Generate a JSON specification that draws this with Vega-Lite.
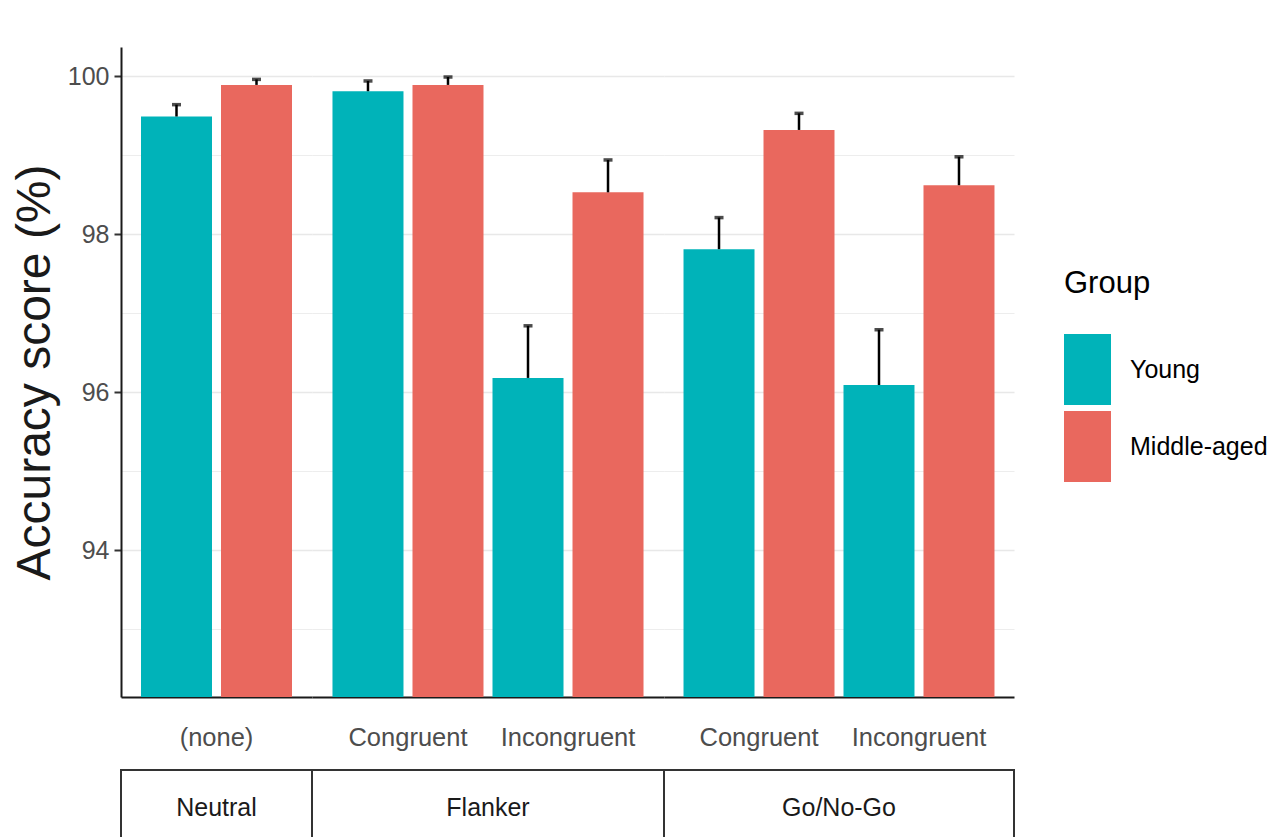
{
  "$schema": "https://vega.github.io/schema/vega-lite/v6.json",
  "background": "white",
  "padding": {"left": 11, "top": 47, "right": 0, "bottom": 0},
  "autosize": {"type": "pad"},
  "datasets": {
    "bars": [
      {"task": "Neutral", "cond": "(none)", "group": "Young", "acc": 99.49, "upper": 99.64},
      {"task": "Neutral", "cond": "(none)", "group": "Middle-aged", "acc": 99.89, "upper": 99.96},
      {"task": "Flanker", "cond": "Congruent", "group": "Young", "acc": 99.81, "upper": 99.94},
      {"task": "Flanker", "cond": "Congruent", "group": "Middle-aged", "acc": 99.89, "upper": 99.99},
      {"task": "Flanker", "cond": "Incongruent", "group": "Young", "acc": 96.18, "upper": 96.84},
      {"task": "Flanker", "cond": "Incongruent", "group": "Middle-aged", "acc": 98.53, "upper": 98.94},
      {"task": "Go/No-Go", "cond": "Congruent", "group": "Young", "acc": 97.81, "upper": 98.21},
      {"task": "Go/No-Go", "cond": "Congruent", "group": "Middle-aged", "acc": 99.32, "upper": 99.53},
      {"task": "Go/No-Go", "cond": "Incongruent", "group": "Young", "acc": 96.09, "upper": 96.79},
      {"task": "Go/No-Go", "cond": "Incongruent", "group": "Middle-aged", "acc": 98.62, "upper": 98.98}
    ],
    "tasks": [
      {"task": "Neutral"},
      {"task": "Flanker"},
      {"task": "Go/No-Go"}
    ]
  },
  "config": {
    "font": "Liberation Sans",
    "view": {"stroke": null},
    "axisX": {
      "title": null,
      "labelFont": "Liberation Sans",
      "labelFontSize": 25.5,
      "labelColor": "#4d4d4d",
      "labelAngle": 0,
      "labelPadding": 28,
      "ticks": false,
      "domainColor": "#1a1a1a",
      "domainWidth": 2,
      "grid": false
    },
    "axisY": {
      "labelFont": "Liberation Sans",
      "labelFontSize": 25,
      "labelColor": "#4d4d4d",
      "tickColor": "#333333",
      "tickWidth": 2,
      "tickSize": 7,
      "labelPadding": 5,
      "domainColor": "#1a1a1a",
      "domainWidth": 2,
      "gridColor": "#e8e8e8"
    },
    "legend": {
      "orient": "none",
      "legendX": 943,
      "legendY": 222,
      "titleFont": "Liberation Sans",
      "titleFontSize": 31,
      "titleFontWeight": "normal",
      "titleColor": "black",
      "titlePadding": 46,
      "labelFont": "Liberation Sans",
      "labelFontSize": 25,
      "labelColor": "black",
      "labelOffset": 19,
      "symbolType": "M-1,-1.511H1V1.511H-1Z",
      "symbolSize": 2209,
      "symbolStrokeWidth": 0,
      "symbolOpacity": 1,
      "rowPadding": 4
    }
  },
  "columns": 3,
  "align": "each",
  "bounds": "flush",
  "spacing": {"row": 73, "column": 0},
  "resolve": {"scale": {"x": "independent", "y": "independent", "xOffset": "independent", "color": "shared"}},
  "concat": [
    {
      "width": 191,
      "height": 650,
      "data": {"name": "bars"},
      "transform": [{"filter": "datum.task === 'Neutral'"}],
      "encoding": {
        "x": {"field": "cond", "type": "nominal", "scale": {"paddingInner": 0.05625, "paddingOuter": 0.125}},
        "xOffset": {"field": "group", "type": "nominal", "sort": ["Young", "Middle-aged"], "scale": {"paddingInner": 0.1125, "paddingOuter": 0}}
      },
      "layer": [
        {
          "mark": {"type": "bar", "clip": true},
          "encoding": {
            "y": {
              "field": "acc", "type": "quantitative", "stack": null,
              "scale": {"domain": [92.14, 100.37], "zero": false, "nice": false},
              "axis": {
                "title": "Accuracy score (%)",
                "titleFont": "Liberation Sans",
                "titleFontSize": 48,
                "titleFontWeight": "normal",
                "titleColor": "#1a1a1a",
                "titlePadding": 8,
                "format": "d",
                "values": [93, 94, 95, 96, 97, 98, 99, 100],
                "labelExpr": "datum.value % 2 === 0 ? datum.label : ''",
                "tickOpacity": {"condition": {"test": "datum.value % 2 === 1", "value": 0}, "value": 1},
                "gridWidth": {"condition": {"test": "datum.value % 2 === 1", "value": 0.8}, "value": 1.6}
              }
            },
            "color": {"field": "group", "type": "nominal", "sort": ["Young", "Middle-aged"], "scale": {"domain": ["Young", "Middle-aged"], "range": ["#00B3B9", "#E9685E"]}, "legend": {"title": "Group"}}
          }
        },
        {
          "mark": {"type": "rule", "color": "black", "strokeWidth": 2.5},
          "encoding": {"y": {"field": "acc", "type": "quantitative"}, "y2": {"field": "upper"}}
        },
        {
          "mark": {"type": "tick", "color": "black", "thickness": 3.5, "size": 9, "orient": "horizontal"},
          "encoding": {"y": {"field": "upper", "type": "quantitative"}}
        }
      ]
    },
    {
      "width": 352,
      "height": 650,
      "data": {"name": "bars"},
      "transform": [{"filter": "datum.task === 'Flanker'"}],
      "encoding": {
        "x": {"field": "cond", "type": "nominal", "scale": {"paddingInner": 0.05625, "paddingOuter": 0.128}},
        "xOffset": {"field": "group", "type": "nominal", "sort": ["Young", "Middle-aged"], "scale": {"paddingInner": 0.1125, "paddingOuter": 0}}
      },
      "layer": [
        {
          "mark": {"type": "bar", "clip": true},
          "encoding": {
            "y": {
              "field": "acc", "type": "quantitative", "stack": null,
              "scale": {"domain": [92.14, 100.37], "zero": false, "nice": false},
              "axis": {
                "title": null, "labels": false, "ticks": false, "domain": false,
                "values": [93, 94, 95, 96, 97, 98, 99, 100],
                "gridWidth": {"condition": {"test": "datum.value % 2 === 1", "value": 0.8}, "value": 1.6}
              }
            },
            "color": {"field": "group", "type": "nominal", "sort": ["Young", "Middle-aged"], "scale": {"domain": ["Young", "Middle-aged"], "range": ["#00B3B9", "#E9685E"]}, "legend": {"title": "Group"}}
          }
        },
        {
          "mark": {"type": "rule", "color": "black", "strokeWidth": 2.5},
          "encoding": {"y": {"field": "acc", "type": "quantitative"}, "y2": {"field": "upper"}}
        },
        {
          "mark": {"type": "tick", "color": "black", "thickness": 3.5, "size": 9, "orient": "horizontal"},
          "encoding": {"y": {"field": "upper", "type": "quantitative"}}
        }
      ]
    },
    {
      "width": 350,
      "height": 650,
      "data": {"name": "bars"},
      "transform": [{"filter": "datum.task === 'Go/No-Go'"}],
      "encoding": {
        "x": {"field": "cond", "type": "nominal", "scale": {"paddingInner": 0.05625, "paddingOuter": 0.122}},
        "xOffset": {"field": "group", "type": "nominal", "sort": ["Young", "Middle-aged"], "scale": {"paddingInner": 0.1125, "paddingOuter": 0}}
      },
      "layer": [
        {
          "mark": {"type": "bar", "clip": true},
          "encoding": {
            "y": {
              "field": "acc", "type": "quantitative", "stack": null,
              "scale": {"domain": [92.14, 100.37], "zero": false, "nice": false},
              "axis": {
                "title": null, "labels": false, "ticks": false, "domain": false,
                "values": [93, 94, 95, 96, 97, 98, 99, 100],
                "gridWidth": {"condition": {"test": "datum.value % 2 === 1", "value": 0.8}, "value": 1.6}
              }
            },
            "color": {"field": "group", "type": "nominal", "sort": ["Young", "Middle-aged"], "scale": {"domain": ["Young", "Middle-aged"], "range": ["#00B3B9", "#E9685E"]}, "legend": {"title": "Group"}}
          }
        },
        {
          "mark": {"type": "rule", "color": "black", "strokeWidth": 2.5},
          "encoding": {"y": {"field": "acc", "type": "quantitative"}, "y2": {"field": "upper"}}
        },
        {
          "mark": {"type": "tick", "color": "black", "thickness": 3.5, "size": 9, "orient": "horizontal"},
          "encoding": {"y": {"field": "upper", "type": "quantitative"}}
        }
      ]
    },
    {
      "width": 191,
      "height": 76,
      "view": {"stroke": "#333333", "strokeWidth": 2},
      "data": {"name": "tasks"},
      "transform": [{"filter": "datum.task === 'Neutral'"}],
      "mark": {"type": "text", "font": "Liberation Sans", "fontSize": 25, "color": "#1a1a1a"},
      "encoding": {
        "x": {"field": "task", "type": "nominal", "axis": null},
        "y": {"field": "task", "type": "nominal", "axis": null},
        "text": {"field": "task"}
      }
    },
    {
      "width": 352,
      "height": 76,
      "view": {"stroke": "#333333", "strokeWidth": 2},
      "data": {"name": "tasks"},
      "transform": [{"filter": "datum.task === 'Flanker'"}],
      "mark": {"type": "text", "font": "Liberation Sans", "fontSize": 25, "color": "#1a1a1a"},
      "encoding": {
        "x": {"field": "task", "type": "nominal", "axis": null},
        "y": {"field": "task", "type": "nominal", "axis": null},
        "text": {"field": "task"}
      }
    },
    {
      "width": 350,
      "height": 76,
      "view": {"stroke": "#333333", "strokeWidth": 2},
      "data": {"name": "tasks"},
      "transform": [{"filter": "datum.task === 'Go/No-Go'"}],
      "mark": {"type": "text", "font": "Liberation Sans", "fontSize": 25, "color": "#1a1a1a"},
      "encoding": {
        "x": {"field": "task", "type": "nominal", "axis": null},
        "y": {"field": "task", "type": "nominal", "axis": null},
        "text": {"field": "task"}
      }
    }
  ]
}
